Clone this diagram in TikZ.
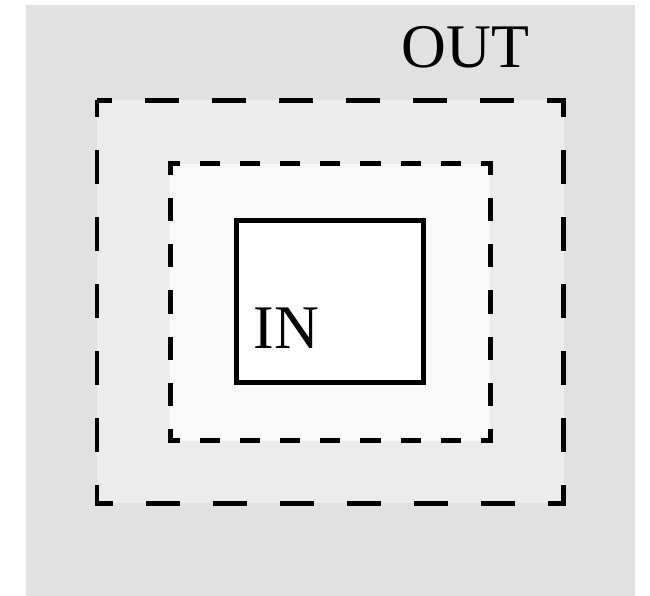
\documentclass[tikz,border=0pt]{standalone}
\usepackage{fontspec}
\setmainfont{Liberation Serif}
\usepackage{xcolor}
\definecolor{bggray}{HTML}{E1E1E1}
\definecolor{outgray}{HTML}{ECECEC}
\definecolor{midgray}{HTML}{F9F9F9}

\begin{document}
\begin{tikzpicture}[x=0.5pt, y=-0.5pt, line width=2.5pt,
    every node/.style={font=\fontsize{31}{37}\selectfont, inner sep=0pt, anchor=base west},
    hside/.style={line cap=rect, dash pattern=on 7.5pt off 12.5pt, dash phase=3.75pt},
    vside/.style={line cap=rect, dash pattern=on 9.04pt off 14.04pt, dash phase=4.52pt}]
  \useasboundingbox (0,0) rectangle (650,596);
  \fill[bggray] (26,5) rectangle (635,596);
  % outer dashed ring
  \fill[outgray] (97,100) rectangle (564,503);
  \draw[dash pattern=on 16.75pt off 16.75pt, dash phase=8.375pt] (97,100) rectangle (564,503);
  % inner dashed ring
  \fill[midgray] (170.5,163.5) rectangle (490.5,440.5);
  \draw[hside] (170.5,163.5) -- (490.5,163.5) (170.5,440.5) -- (490.5,440.5);
  \draw[vside] (170.5,163.5) -- (170.5,440.5) (490.5,163.5) -- (490.5,440.5);
  % solid core
  \draw[fill=white] (236.5,220.5) rectangle (424,382.5);
  \node (out) at (399,67.5) {OUT};
  \node (in) at (251,348) {IN};
\end{tikzpicture}
\end{document}
